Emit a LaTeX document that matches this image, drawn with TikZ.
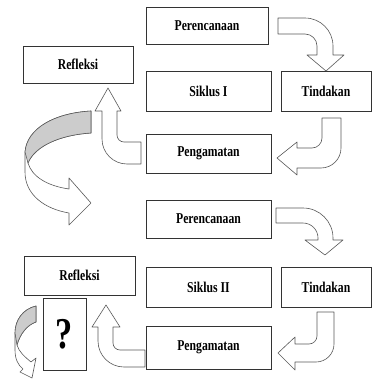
\documentclass[tikz,border=0pt]{standalone}
\usepackage{fontspec}
\setmainfont{Liberation Serif}[FakeStretch=0.78]
\definecolor{boxline}{gray}{0.2}
\definecolor{arrowline}{gray}{0.35}
\colorlet{fold}{black!20}
\tikzset{box/.style={draw=boxline, line width=0.8pt, inner sep=0pt, font=\bfseries\fontsize{15}{17}\selectfont},
        bent/.style={draw=arrowline, line width=0.6pt, fill=white, line join=round}}

\begin{document}
\begin{tikzpicture}[x=1pt, y=1pt, yscale=-1]
        \useasboundingbox (0,0) rectangle (372,380);

        % first cycle
        \node[box, minimum width=122pt, minimum height=37pt] (perA) at (207,25.5) {Perencanaan};
        \node[box, minimum width=110pt, minimum height=37pt] (refA) at (78,64.5) {Refleksi};
        \node[box, minimum width=125pt, minimum height=40pt] (sikA) at (208.5,91) {Siklus I};
        \node[box, minimum width=90pt, minimum height=40pt] (tinA) at (326,91) {Tindakan};
        \node[box, minimum width=125pt, minimum height=39pt] (pengA) at (208.5,153.5) {Pengamatan};

        \draw[bent] (278,18) -- (305,18) arc[start angle=-90, end angle=0, radius=28] -- (333,55) -- (344,55)
                -- (326,71) -- (307,55) -- (317,55) -- (317,46) arc[start angle=0, end angle=-90, radius=12] -- (278,34) -- cycle;
        \draw[bent] (341,118) -- (341,148) arc[start angle=0, end angle=90, radius=20] -- (297,168) -- (297,175)
                -- (277,158) -- (297,142) -- (297,148) -- (312,148) arc[start angle=90, end angle=0, radius=10] -- (322,118) -- cycle;
        \draw[bent] (141,164) -- (127,164) arc[start angle=90, end angle=180, radius=25] -- (102,111) -- (95,111)
                -- (108,88) -- (121,111) -- (117,111) -- (117,135) arc[start angle=180, end angle=90, radius=7] -- (141,142) -- cycle;

        \draw[bent] (91,111) .. controls (55,113) and (27,128) .. (25,152) -- (25,172) .. controls (25,195) and (45,209) .. (69,213)
                -- (69,225) -- (91,203) -- (69,178) -- (69,189) .. controls (48,186) and (32,177) .. (28,163)
                .. controls (35,146) and (60,135) .. (91,133) -- cycle;
        \draw[bent, fill=fold] (91,111) .. controls (55,113) and (27,128) .. (25,152) -- (28,163)
                .. controls (35,146) and (60,135) .. (91,133) -- cycle;

        % second cycle
        \node[box, minimum width=125pt, minimum height=38pt] (perB) at (208.5,219) {Perencanaan};
        \node[box, minimum width=111pt, minimum height=39pt] (refB) at (79.5,275.5) {Refleksi};
        \node[box, minimum width=125pt, minimum height=40pt] (sikB) at (208.5,287) {Siklus II};
        \node[box, minimum width=90pt, minimum height=40pt] (tinB) at (326,287) {Tindakan};
        \node[box, minimum width=125pt, minimum height=43pt] (pengB) at (208.5,347.5) {Pengamatan};
        \node[box, minimum width=43pt, minimum height=72pt, font=\bfseries\fontsize{44}{48}\selectfont] (ques) at (64.5,334) {?};

        \draw[bent] (276,208) -- (303,208) arc[start angle=-90, end angle=0, radius=30] -- (333,240) -- (343,240)
                -- (325,255) -- (305,240) -- (318,240) -- (318,238) arc[start angle=0, end angle=-90, radius=15] -- (276,223) -- cycle;
        \draw[bent] (334,312) -- (334,344) arc[start angle=0, end angle=90, radius=18] -- (295,362) -- (295,370)
                -- (278,353) -- (295,337) -- (295,344) -- (309,344) arc[start angle=90, end angle=0, radius=8] -- (317,312) -- cycle;
        \draw[bent] (145,367) -- (124,367) arc[start angle=90, end angle=180, radius=26] -- (98,327) -- (92,327)
                -- (106,305) -- (120,327) -- (113,327) -- (113,343) arc[start angle=180, end angle=90, radius=7] -- (145,350) -- cycle;

        \draw[bent] (36,306) .. controls (23,309) and (15,320) .. (15,333) -- (15,350) .. controls (15,359) and (18,365) .. (23,369)
                -- (20,372) -- (32,378) -- (36,358) -- (31,362) .. controls (25,357) and (19,352) .. (17,345)
                .. controls (20,334) and (27,325) .. (36,322) -- cycle;
        \draw[bent, fill=fold] (36,306) .. controls (23,309) and (15,320) .. (15,333) -- (17,345)
                .. controls (20,334) and (27,325) .. (36,322) -- cycle;
\end{tikzpicture}
\end{document}
